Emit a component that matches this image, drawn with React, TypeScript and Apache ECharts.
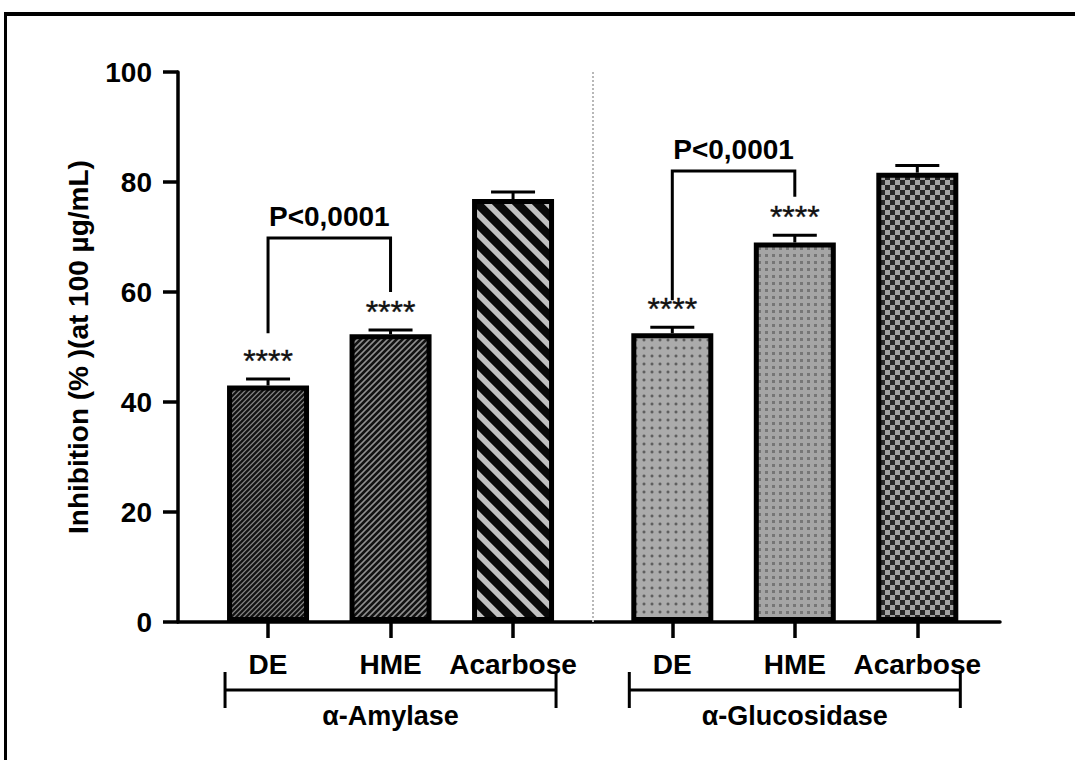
import React, { useEffect, useRef } from 'react';
import * as echarts from 'echarts';

// ---- data ----
const categories = ['DE', 'HME', 'Acarbose', 'DE', 'HME', 'Acarbose'];
const positions = [1, 2, 3, 4.3, 5.3, 6.3];
const inhibition = [43.0, 52.3, 76.9, 52.5, 69.0, 81.7];
const errors = [1.2, 0.8, 1.3, 1.1, 1.3, 1.3];
const significance = ['****', '****', '', '****', '****', ''];
const patterns = ['fineStripe', 'fineStripe2', 'wideStripe', 'dots', 'squares', 'checker'];

const groupNames = ['α-Amylase', 'α-Glucosidase'];
const groupSpans = [
  [1, 3],
  [4.3, 6.3],
];
const dividerAt = 3.65;

// comparison brackets: [from, to, top, left end, right end]
const pBrackets = [
  [1, 2, 69.8, 52.5, 60.0],
  [4.3, 5.3, 82.0, 58.5, 77.3],
];
const pLabels = ['P<0,0001', 'P<0,0001'];

const yMin = 0;
const yMax = 100;
const yInterval = 20;
const yTitle = 'Inhibition (% )(at 100 µg/mL)';

const FONT = '"Liberation Sans", Arial, Helvetica, sans-serif';
const BAR_WIDTH = 82;
const HALF_OUTER = 43;

type RGB = [number, number, number];
const hex = (h: string): RGB => [parseInt(h.slice(1, 3), 16), parseInt(h.slice(3, 5), 16), parseInt(h.slice(5, 7), 16)];

// Builds a seamless tile: cov(x, y) returns which colour a sub-pixel sample takes (index into colours).
function buildTile(size: number, colours: string[], pick: (x: number, y: number) => number) {
  const c = document.createElement('canvas');
  c.width = size;
  c.height = size;
  const ctx = c.getContext('2d')!;
  const img = ctx.createImageData(size, size);
  const cols = colours.map(hex);
  const N = 4;
  for (let py = 0; py < size; py++) {
    for (let px = 0; px < size; px++) {
      let r = 0, g = 0, b = 0;
      for (let sy = 0; sy < N; sy++) {
        for (let sx = 0; sx < N; sx++) {
          const col = cols[pick(px + (sx + 0.5) / N, py + (sy + 0.5) / N)];
          r += col[0];
          g += col[1];
          b += col[2];
        }
      }
      const k = (py * size + px) * 4;
      img.data[k] = r / (N * N);
      img.data[k + 1] = g / (N * N);
      img.data[k + 2] = b / (N * N);
      img.data[k + 3] = 255;
    }
  }
  ctx.putImageData(img, 0, 0);
  return { image: c.toDataURL('image/png'), repeat: 'repeat', imageWidth: size, imageHeight: size };
}

const mod = (a: number, m: number) => ((a % m) + m) % m;

function makePattern(kind: string) {
  if (kind === 'fineStripe') {
    // "/" hairlines on black
    return buildTile(5, ['#121212', '#858585'], (x, y) => (mod(x + y, 5) < 1.7 ? 1 : 0));
  }
  if (kind === 'fineStripe2') {
    return buildTile(6, ['#121212', '#909090'], (x, y) => (mod(x + y, 6) < 2.1 ? 1 : 0));
  }
  if (kind === 'wideStripe') {
    // wide "\" stripes on black
    return buildTile(20, ['#0a0a0a', '#c2c2c2'], (x, y) => (mod(x - y, 20) < 7.8 ? 1 : 0));
  }
  if (kind === 'dots') {
    return buildTile(8, ['#ababab', '#7e7e7e', '#505050'], (x, y) => {
      const d = Math.hypot(x - 4, y - 4);
      return d < 0.9 ? 2 : d < 1.7 ? 1 : 0;
    });
  }
  if (kind === 'squares') {
    return buildTile(7, ['#a5a5a5', '#767676'], (x, y) => (x >= 2 && x < 5 && y >= 2 && y < 5 ? 1 : 0));
  }
  // checkerboard
  return buildTile(10, ['#a2a2a2', '#262626'], (x, y) => ((x < 5) === (y < 5) ? 1 : 0));
}

function labelFor(v: number) {
  let best = 0;
  for (let i = 1; i < positions.length; i++) {
    if (Math.abs(positions[i] - v) < Math.abs(positions[best] - v)) best = i;
  }
  return categories[best];
}

export default function App() {
  const ref = useRef<HTMLDivElement>(null);

  useEffect(() => {
    if (!ref.current) return;
    const chart = echarts.init(ref.current, null, { renderer: 'svg' });

    const barData = positions.map((x, i) => ({
      value: [x, inhibition[i]],
      itemStyle: {
        color: makePattern(patterns[i]) as any,
        borderColor: '#000',
        borderWidth: 5,
      },
    }));

    const option: any = {
      animation: false,
      backgroundColor: '#fff',
      grid: { left: 178, right: 75, top: 72, bottom: 138, containLabel: false },
      xAxis: {
        type: 'value',
        min: 0.265,
        max: 6.975,
        splitLine: { show: false },
        axisLine: { show: true, lineStyle: { color: '#000', width: 3.5 } },
        axisTick: {
          show: true,
          customValues: positions,
          length: 16,
          inside: false,
          lineStyle: { color: '#000', width: 3.5 },
        },
        axisLabel: {
          customValues: positions,
          formatter: (v: number) => labelFor(v),
          margin: 28,
          color: '#000',
          fontSize: 28,
          fontWeight: 'bold',
          fontFamily: FONT,
        },
      },
      yAxis: {
        type: 'value',
        min: yMin,
        max: yMax,
        interval: yInterval,
        name: yTitle,
        nameLocation: 'middle',
        nameGap: 86,
        nameTextStyle: { color: '#000', fontSize: 28, fontWeight: 'bold', fontFamily: FONT },
        splitLine: { show: false },
        axisLine: { show: true, lineStyle: { color: '#000', width: 3.5 } },
        axisTick: { show: true, length: 15, lineStyle: { color: '#000', width: 3.5 } },
        axisLabel: {
          margin: 26,
          color: '#000',
          fontSize: 28,
          fontWeight: 'bold',
          fontFamily: FONT,
        },
      },
      graphic: [
        { type: 'rect', shape: { x: 4, y: 12, width: 1071, height: 4 }, style: { fill: '#000' }, z: 100 },
        { type: 'rect', shape: { x: 4, y: 12, width: 3, height: 748 }, style: { fill: '#000' }, z: 100 },
      ],
      series: [
        {
          type: 'bar',
          barWidth: BAR_WIDTH,
          data: barData,
          z: 2,
          markLine: {
            silent: true,
            symbol: ['none', 'none'],
            label: { show: false },
            lineStyle: { type: 'dotted', color: '#b8b8b8', width: 2 },
            data: [{ xAxis: dividerAt }],
          },
        },
        {
          // error bars and significance stars
          type: 'custom',
          z: 3,
          data: positions.map((x, i) => [x, inhibition[i], errors[i]]),
          encode: { x: 0, y: 1 },
          renderItem: (params: any, api: any) => {
            const i = params.dataIndex;
            const x = api.value(0);
            const v = api.value(1);
            const e = api.value(2);
            const base = api.coord([x, v]);
            const top = api.coord([x, v + e]);
            const children: any[] = [
              { type: 'line', shape: { x1: base[0], y1: base[1], x2: top[0], y2: top[1] }, style: { stroke: '#000', lineWidth: 3 } },
              { type: 'line', shape: { x1: top[0] - 22, y1: top[1], x2: top[0] + 22, y2: top[1] }, style: { stroke: '#000', lineWidth: 3 } },
            ];
            if (significance[i]) {
              children.push({
                type: 'text',
                x: top[0],
                y: top[1] - 2,
                style: {
                  text: significance[i],
                  fontSize: 32,
                  fontFamily: FONT,
                  fill: '#111',
                  stroke: '#111',
                  lineWidth: 0.4,
                  align: 'center',
                  verticalAlign: 'bottom',
                },
              });
            }
            return { type: 'group', children };
          },
        },
        {
          // P-value comparison brackets
          type: 'custom',
          z: 3,
          data: pBrackets,
          encode: { x: 0, y: 2 },
          renderItem: (params: any, api: any) => {
            const i = params.dataIndex;
            const a = api.coord([api.value(0), api.value(2)]);
            const b = api.coord([api.value(1), api.value(2)]);
            const la = api.coord([api.value(0), api.value(3)]);
            const rb = api.coord([api.value(1), api.value(4)]);
            return {
              type: 'group',
              children: [
                {
                  type: 'polyline',
                  shape: { points: [[la[0], la[1]], [a[0], a[1]], [b[0], b[1]], [rb[0], rb[1]]] },
                  style: { stroke: '#000', lineWidth: 3, fill: 'none' },
                },
                {
                  type: 'text',
                  x: (a[0] + b[0]) / 2,
                  y: a[1] - 8,
                  style: {
                    text: pLabels[i],
                    fontSize: 28,
                    fontWeight: 'bold',
                    fontFamily: FONT,
                    fill: '#000',
                    align: 'center',
                    verticalAlign: 'bottom',
                  },
                },
              ],
            };
          },
        },
        {
          // group brackets below the category labels
          type: 'custom',
          z: 3,
          data: groupSpans,
          encode: { x: [0, 1] },
          renderItem: (params: any, api: any) => {
            const i = params.dataIndex;
            const a = api.coord([api.value(0), 0]);
            const b = api.coord([api.value(1), 0]);
            const x1 = a[0] - HALF_OUTER;
            const x2 = b[0] + HALF_OUTER;
            const y0 = a[1];
            const ls = { stroke: '#000', lineWidth: 3 };
            return {
              type: 'group',
              children: [
                { type: 'line', shape: { x1, y1: y0 + 68, x2, y2: y0 + 68 }, style: ls },
                { type: 'line', shape: { x1, y1: y0 + 50, x2: x1, y2: y0 + 86 }, style: ls },
                { type: 'line', shape: { x1: x2, y1: y0 + 50, x2, y2: y0 + 86 }, style: ls },
                {
                  type: 'text',
                  x: (x1 + x2) / 2,
                  y: y0 + 94,
                  style: {
                    text: groupNames[i],
                    fontSize: 27,
                    fontWeight: 'bold',
                    fontFamily: FONT,
                    fill: '#000',
                    align: 'center',
                    verticalAlign: 'middle',
                  },
                },
              ],
            };
          },
        },
      ],
    };

    chart.setOption(option);
    return () => chart.dispose();
  }, []);

  return (
    <div
      ref={ref}
      style={{ position: 'fixed', left: 0, top: 0, width: 1075, height: 760, background: '#fff' }}
    />
  );
}
